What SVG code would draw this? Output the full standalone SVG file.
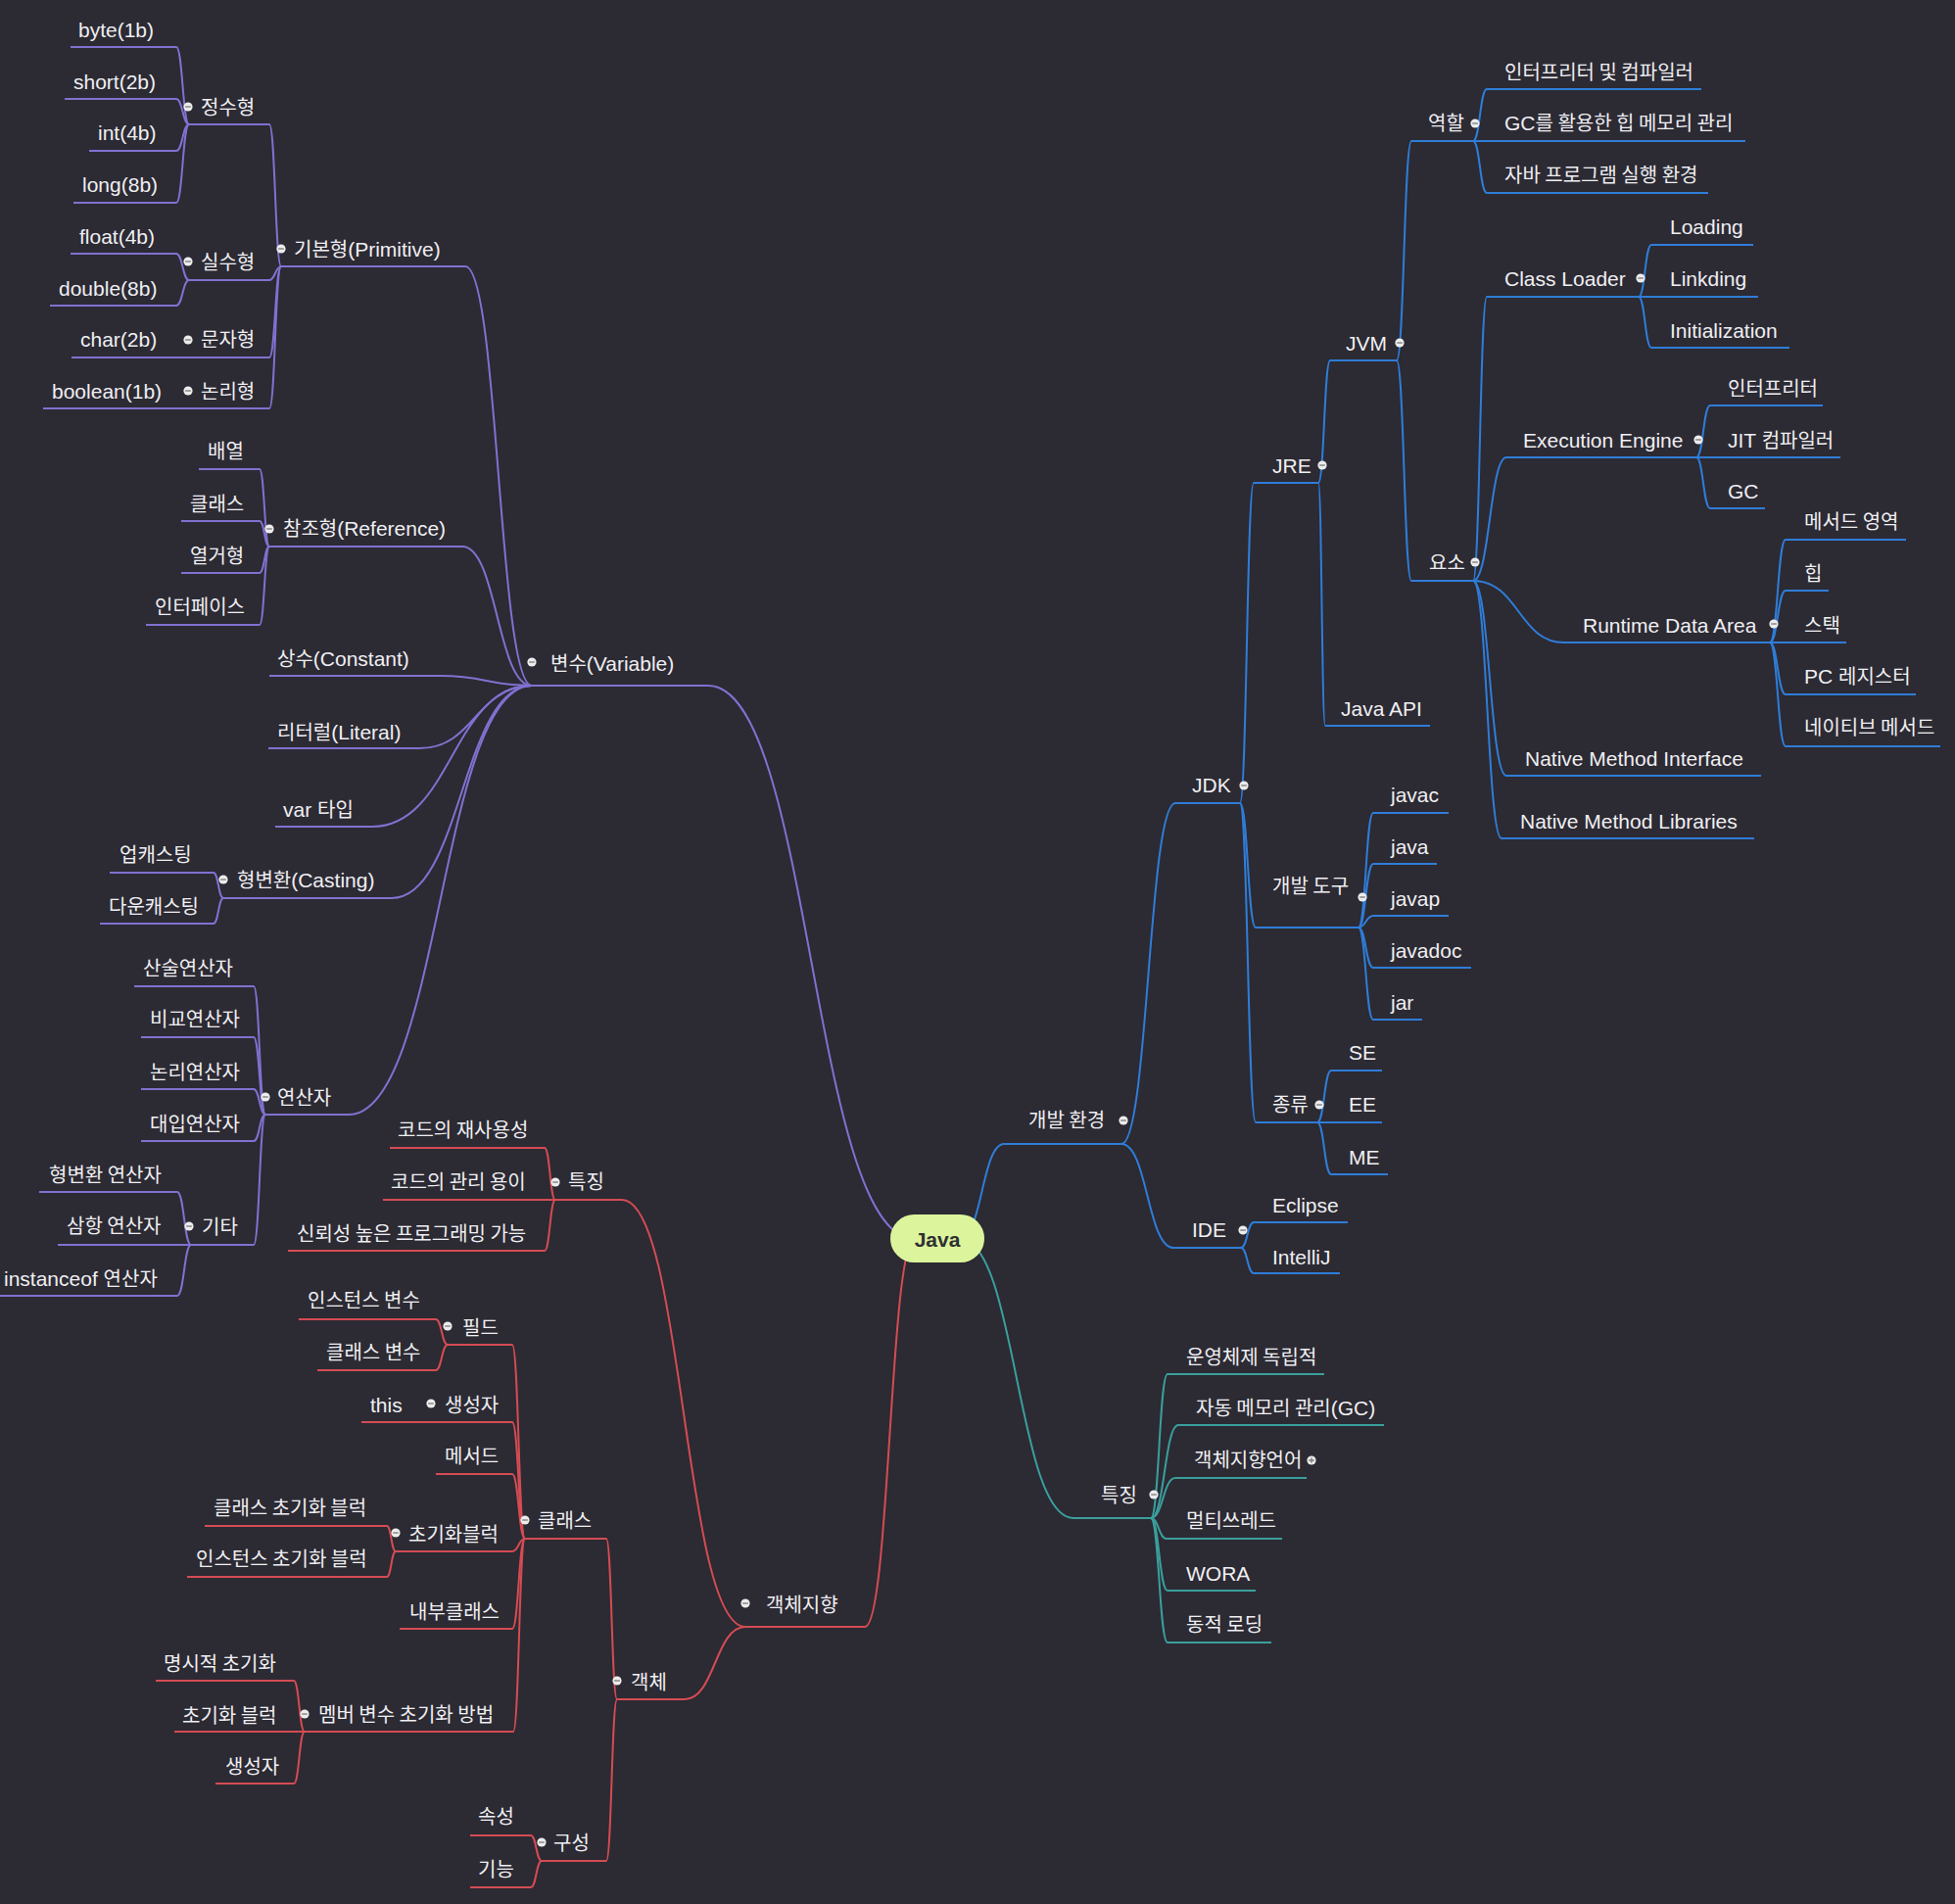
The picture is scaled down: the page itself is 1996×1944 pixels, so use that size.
<svg xmlns="http://www.w3.org/2000/svg" width="1996" height="1944" viewBox="0 0 1996 1944">
<style>
text{font-family:"Liberation Sans","Noto Sans CJK KR",sans-serif;font-size:21px;fill:#efeff2}
.k{font-family:"Noto Sans CJK KR",sans-serif;font-size:20px}
.c path{fill:none;stroke-width:2}
.pu path{stroke:#8171d0}
.rd path{stroke:#d44c53}
.bl path{stroke:#2f7dd8}
.tl path{stroke:#3a9f9c}
</style>
<defs>
<g id="dm"><circle r="4.6" fill="#ececec"/><path d="M-2.8 0H2.8" stroke="#7a7a7a" stroke-width="1.3"/></g>
<g id="dp"><circle r="4.6" fill="#ececec"/><path d="M-2.8 0H2.8M0 -2.8V2.8" stroke="#7a7a7a" stroke-width="1.3"/></g>
</defs>
<rect width="1996" height="1944" fill="#2c2a33"/>
<g id="connectors" class="c">
<g class="pu">
<path d="M543 700H723C828.5 700 828.5 1265 934 1265"/>
<path d="M287 272H475C509 272 509 700 543 700"/>
<path d="M193 127H275C281 127 281 272 287 272"/>
<path d="M72 48H180C186.5 48 186.5 127 193 127"/>
<path d="M66 101H180C186.5 101 186.5 127 193 127"/>
<path d="M91 154H180C186.5 154 186.5 127 193 127"/>
<path d="M75 207H180C186.5 207 186.5 127 193 127"/>
<path d="M193 286H275C281 286 281 272 287 272"/>
<path d="M72 259H180C186.5 259 186.5 286 193 286"/>
<path d="M51 312H180C186.5 312 186.5 286 193 286"/>
<path d="M193 365H275C281 365 281 272 287 272"/>
<path d="M73 365H193"/>
<path d="M193 417H275C281 417 281 272 287 272"/>
<path d="M44 417H193"/>
<path d="M275 558H472C507.5 558 507.5 700 543 700"/>
<path d="M203 479H265C270 479 270 558 275 558"/>
<path d="M185 532H265C270 532 270 558 275 558"/>
<path d="M185 585H265C270 585 270 558 275 558"/>
<path d="M149 638H265C270 638 270 558 275 558"/>
<path d="M275 690H450C496.5 690 496.5 700 543 700"/>
<path d="M274 764H428C485.5 764 485.5 700 543 700"/>
<path d="M281 844H380C461.5 844 461.5 700 543 700"/>
<path d="M228 917H400C471.5 917 471.5 700 543 700"/>
<path d="M112 891H218C223 891 223 917 228 917"/>
<path d="M102 943H218C223 943 223 917 228 917"/>
<path d="M271 1138H356C449.5 1138 449.5 700 543 700"/>
<path d="M137 1007H259C265 1007 265 1138 271 1138"/>
<path d="M144 1059H259C265 1059 265 1138 271 1138"/>
<path d="M144 1112H259C265 1112 265 1138 271 1138"/>
<path d="M144 1165H259C265 1165 265 1138 271 1138"/>
<path d="M195 1271H259C265 1271 265 1138 271 1138"/>
<path d="M40 1217H181C188 1217 188 1271 195 1271"/>
<path d="M59 1271H195"/>
<path d="M0 1323H181C188 1323 188 1271 195 1271"/>
</g>
<g class="rd">
<path d="M761 1661H883C908.5 1661 908.5 1265 934 1265"/>
<path d="M567 1225H635C698 1225 698 1661 761 1661"/>
<path d="M398 1172H556C561.5 1172 561.5 1225 567 1225"/>
<path d="M391 1225H567"/>
<path d="M294 1277H556C561.5 1277 561.5 1225 567 1225"/>
<path d="M630 1735H699C730 1735 730 1661 761 1661"/>
<path d="M536 1571H619C624.5 1571 624.5 1735 630 1735"/>
<path d="M457 1373H523C529.5 1373 529.5 1571 536 1571"/>
<path d="M305 1347H445C451 1347 451 1373 457 1373"/>
<path d="M324 1399H445C451 1399 451 1373 457 1373"/>
<path d="M440 1452H523C529.5 1452 529.5 1571 536 1571"/>
<path d="M369 1452H440"/>
<path d="M445 1505H523C529.5 1505 529.5 1571 536 1571"/>
<path d="M404 1584H523C529.5 1584 529.5 1571 536 1571"/>
<path d="M209 1558H395C399.5 1558 399.5 1584 404 1584"/>
<path d="M191 1610H395C399.5 1610 399.5 1584 404 1584"/>
<path d="M408 1663H523C529.5 1663 529.5 1571 536 1571"/>
<path d="M311 1768H524C530 1768 530 1571 536 1571"/>
<path d="M159 1716H300C305.5 1716 305.5 1768 311 1768"/>
<path d="M178 1768H311"/>
<path d="M220 1821H300C305.5 1821 305.5 1768 311 1768"/>
<path d="M553 1900H619C624.5 1900 624.5 1735 630 1735"/>
<path d="M480 1874H542C547.5 1874 547.5 1900 553 1900"/>
<path d="M480 1927H542C547.5 1927 547.5 1900 553 1900"/>
</g>
<g class="bl">
<path d="M1145 1168H1025C1002.5 1168 1002.5 1265 980 1265"/>
<path d="M1266 820H1200C1172.5 820 1172.5 1168 1145 1168"/>
<path d="M1346 493H1280C1273 493 1273 820 1266 820"/>
<path d="M1426 368H1358C1352 368 1352 493 1346 493"/>
<path d="M1504 144H1441C1433.5 144 1433.5 368 1426 368"/>
<path d="M1737 91H1518C1511 91 1511 144 1504 144"/>
<path d="M1782 144H1504"/>
<path d="M1744 197H1518C1511 197 1511 144 1504 144"/>
<path d="M1504 593H1441C1433.5 593 1433.5 368 1426 368"/>
<path d="M1673 303H1518C1511 303 1511 593 1504 593"/>
<path d="M1790 250H1686C1679.5 250 1679.5 303 1673 303"/>
<path d="M1795 303H1673"/>
<path d="M1827 355H1686C1679.5 355 1679.5 303 1673 303"/>
<path d="M1732 467H1538C1521 467 1521 593 1504 593"/>
<path d="M1861 414H1746C1739 414 1739 467 1732 467"/>
<path d="M1879 467H1732"/>
<path d="M1802 519H1746C1739 519 1739 467 1732 467"/>
<path d="M1807 656H1597C1550.5 656 1550.5 593 1504 593"/>
<path d="M1946 551H1823C1815 551 1815 656 1807 656"/>
<path d="M1867 603H1823C1815 603 1815 656 1807 656"/>
<path d="M1885 656H1807"/>
<path d="M1956 709H1823C1815 709 1815 656 1807 656"/>
<path d="M1981 762H1823C1815 762 1815 656 1807 656"/>
<path d="M1798 792H1538C1521 792 1521 593 1504 593"/>
<path d="M1791 856H1533C1518.5 856 1518.5 593 1504 593"/>
<path d="M1460 741H1353C1349.5 741 1349.5 493 1346 493"/>
<path d="M1387 947H1282C1274 947 1274 820 1266 820"/>
<path d="M1479 830H1402C1394.5 830 1394.5 947 1387 947"/>
<path d="M1467 882H1402C1394.5 882 1394.5 947 1387 947"/>
<path d="M1479 935H1402C1394.5 935 1394.5 947 1387 947"/>
<path d="M1502 988H1402C1394.5 988 1394.5 947 1387 947"/>
<path d="M1452 1041H1402C1394.5 1041 1394.5 947 1387 947"/>
<path d="M1345 1146H1282C1274 1146 1274 820 1266 820"/>
<path d="M1411 1093H1359C1352 1093 1352 1146 1345 1146"/>
<path d="M1411 1146H1345"/>
<path d="M1417 1199H1359C1352 1199 1352 1146 1345 1146"/>
<path d="M1267 1274H1198C1171.5 1274 1171.5 1168 1145 1168"/>
<path d="M1376 1248H1280C1273.5 1248 1273.5 1274 1267 1274"/>
<path d="M1368 1300H1280C1273.5 1300 1273.5 1274 1267 1274"/>
</g>
<g class="tl">
<path d="M1175 1550H1096C1038 1550 1038 1265 980 1265"/>
<path d="M1352 1403H1192C1183.5 1403 1183.5 1550 1175 1550"/>
<path d="M1413 1455H1203C1189 1455 1189 1550 1175 1550"/>
<path d="M1334 1509H1200C1187.5 1509 1187.5 1550 1175 1550"/>
<path d="M1309 1571H1191C1183 1571 1183 1550 1175 1550"/>
<path d="M1282 1624H1192C1183.5 1624 1183.5 1550 1175 1550"/>
<path d="M1298 1677H1192C1183.5 1677 1183.5 1550 1175 1550"/>
</g>
</g>
<g id="n-java"><rect x="909" y="1240" width="96" height="49" rx="24.5" fill="#dcf59c"/><text x="957" y="1273" text-anchor="middle" style="font-weight:bold;fill:#2f2f33">Java</text></g>
<g id="n-var"><use href="#dm" x="543" y="676"/><text x="562" y="685"><tspan class="k">변수</tspan>(Variable)</text></g>
<g id="n-prim"><use href="#dm" x="287" y="254"/><text x="300" y="262"><tspan class="k">기본형</tspan>(Primitive)</text></g>
<g id="n-int-type"><use href="#dm" x="192" y="109"/><text class="k" x="205" y="117">정수형</text></g>
<g id="n-byte"><text x="80" y="38">byte(1b)</text></g>
<g id="n-short"><text x="75" y="91">short(2b)</text></g>
<g id="n-int"><text x="100" y="143">int(4b)</text></g>
<g id="n-long"><text x="84" y="196">long(8b)</text></g>
<g id="n-real-type"><use href="#dm" x="192" y="267"/><text class="k" x="205" y="275">실수형</text></g>
<g id="n-float"><text x="81" y="249">float(4b)</text></g>
<g id="n-double"><text x="60" y="302">double(8b)</text></g>
<g id="n-char-type"><use href="#dm" x="192" y="347"/><text class="k" x="205" y="354">문자형</text></g>
<g id="n-char"><text x="82" y="354">char(2b)</text></g>
<g id="n-bool-type"><use href="#dm" x="192" y="399"/><text class="k" x="205" y="407">논리형</text></g>
<g id="n-boolean"><text x="53" y="407">boolean(1b)</text></g>
<g id="n-ref"><use href="#dm" x="275" y="540"/><text x="289" y="547"><tspan class="k">참조형</tspan>(Reference)</text></g>
<g id="n-array"><text class="k" x="212" y="468">배열</text></g>
<g id="n-ref-class"><text class="k" x="194" y="522">클래스</text></g>
<g id="n-enum"><text class="k" x="194" y="575">열거형</text></g>
<g id="n-interface"><text class="k" x="158" y="627">인터페이스</text></g>
<g id="n-const"><text x="283" y="680"><tspan class="k">상수</tspan>(Constant)</text></g>
<g id="n-literal"><text x="283" y="755"><tspan class="k">리터럴</tspan>(Literal)</text></g>
<g id="n-vartype"><text x="289" y="834">var <tspan class="k">타입</tspan></text></g>
<g id="n-cast"><use href="#dm" x="228" y="898"/><text x="242" y="906"><tspan class="k">형변환</tspan>(Casting)</text></g>
<g id="n-up"><text class="k" x="122" y="880">업캐스팅</text></g>
<g id="n-down"><text class="k" x="111" y="933">다운캐스팅</text></g>
<g id="n-op"><use href="#dm" x="271" y="1120"/><text class="k" x="283" y="1128">연산자</text></g>
<g id="n-op1"><text class="k" x="146" y="996">산술연산자</text></g>
<g id="n-op2"><text class="k" x="153" y="1048">비교연산자</text></g>
<g id="n-op3"><text class="k" x="153" y="1102">논리연산자</text></g>
<g id="n-op4"><text class="k" x="153" y="1155">대입연산자</text></g>
<g id="n-etc"><use href="#dm" x="193" y="1252"/><text class="k" x="206" y="1260">기타</text></g>
<g id="n-castop"><text class="k" x="50" y="1207">형변환 연산자</text></g>
<g id="n-ternary"><text class="k" x="68" y="1259">삼항 연산자</text></g>
<g id="n-instanceof"><text x="4" y="1313">instanceof <tspan class="k">연산자</tspan></text></g>
<g id="n-oop"><use href="#dm" x="761" y="1637"/><text class="k" x="782" y="1646">객체지향</text></g>
<g id="n-oop-feat"><use href="#dm" x="567" y="1207"/><text class="k" x="580" y="1214">특징</text></g>
<g id="n-reuse"><text class="k" x="406" y="1161">코드의 재사용성</text></g>
<g id="n-manage"><text class="k" x="399" y="1214">코드의 관리 용이</text></g>
<g id="n-reliable"><text class="k" x="303" y="1267">신뢰성 높은 프로그래밍 가능</text></g>
<g id="n-object"><use href="#dm" x="630" y="1716"/><text class="k" x="644" y="1725">객체</text></g>
<g id="n-class"><use href="#dm" x="536" y="1552"/><text class="k" x="549" y="1560">클래스</text></g>
<g id="n-field"><use href="#dm" x="457" y="1354"/><text class="k" x="472" y="1363">필드</text></g>
<g id="n-instvar"><text class="k" x="314" y="1335">인스턴스 변수</text></g>
<g id="n-classvar"><text class="k" x="333" y="1388">클래스 변수</text></g>
<g id="n-ctor"><use href="#dm" x="440" y="1433"/><text class="k" x="454" y="1442">생성자</text></g>
<g id="n-this"><text x="378" y="1442">this</text></g>
<g id="n-method"><text class="k" x="454" y="1494">메서드</text></g>
<g id="n-initblock"><use href="#dm" x="404" y="1565"/><text class="k" x="417" y="1574">초기화블럭</text></g>
<g id="n-cinit"><text class="k" x="218" y="1547">클래스 초기화 블럭</text></g>
<g id="n-iinit"><text class="k" x="200" y="1599">인스턴스 초기화 블럭</text></g>
<g id="n-inner"><text class="k" x="418" y="1653">내부클래스</text></g>
<g id="n-meminit"><use href="#dm" x="311" y="1750"/><text class="k" x="325" y="1758">멤버 변수 초기화 방법</text></g>
<g id="n-explicit"><text class="k" x="167" y="1706">명시적 초기화</text></g>
<g id="n-initblk2"><text class="k" x="186" y="1759">초기화 블럭</text></g>
<g id="n-ctor2"><text class="k" x="230" y="1811">생성자</text></g>
<g id="n-compose"><use href="#dm" x="553" y="1881"/><text class="k" x="565" y="1889">구성</text></g>
<g id="n-attr"><text class="k" x="488" y="1862">속성</text></g>
<g id="n-func"><text class="k" x="488" y="1916">기능</text></g>
<g id="n-devenv"><use href="#dm" x="1147" y="1144"/><text class="k" x="1050" y="1151">개발 환경</text></g>
<g id="n-jdk"><use href="#dm" x="1270" y="802"/><text x="1217" y="809">JDK</text></g>
<g id="n-jre"><use href="#dm" x="1350" y="475"/><text x="1299" y="483">JRE</text></g>
<g id="n-jvm"><use href="#dm" x="1429" y="350"/><text x="1374" y="358">JVM</text></g>
<g id="n-role"><use href="#dm" x="1506" y="126"/><text class="k" x="1458" y="133">역할</text></g>
<g id="n-interp-comp"><text class="k" x="1536" y="81">인터프리터 및 컴파일러</text></g>
<g id="n-gcheap"><text x="1536" y="133">GC<tspan class="k">를 활용한 힙 메모리 관리</tspan></text></g>
<g id="n-runenv"><text class="k" x="1536" y="186">자바 프로그램 실행 환경</text></g>
<g id="n-elem"><use href="#dm" x="1506" y="574"/><text class="k" x="1459" y="582">요소</text></g>
<g id="n-classloader"><use href="#dm" x="1675" y="284"/><text x="1536" y="292">Class Loader</text></g>
<g id="n-loading"><text x="1705" y="239">Loading</text></g>
<g id="n-linking"><text x="1705" y="292">Linkding</text></g>
<g id="n-init"><text x="1705" y="345">Initialization</text></g>
<g id="n-exec"><use href="#dm" x="1734" y="449"/><text x="1555" y="457">Execution Engine</text></g>
<g id="n-interp"><text class="k" x="1764" y="404">인터프리터</text></g>
<g id="n-jit"><text x="1764" y="457">JIT <tspan class="k">컴파일러</tspan></text></g>
<g id="n-gc"><text x="1764" y="509">GC</text></g>
<g id="n-rda"><use href="#dm" x="1811" y="637"/><text x="1616" y="646">Runtime Data Area</text></g>
<g id="n-methodarea"><text class="k" x="1842" y="540">메서드 영역</text></g>
<g id="n-heap"><text class="k" x="1842" y="593">힙</text></g>
<g id="n-stack"><text class="k" x="1842" y="646">스택</text></g>
<g id="n-pc"><text x="1842" y="698">PC <tspan class="k">레지스터</tspan></text></g>
<g id="n-native"><text class="k" x="1842" y="750">네이티브 메서드</text></g>
<g id="n-nmi"><text x="1557" y="782">Native Method Interface</text></g>
<g id="n-nml"><text x="1552" y="846">Native Method Libraries</text></g>
<g id="n-javaapi"><text x="1369" y="731">Java API</text></g>
<g id="n-tools"><use href="#dm" x="1391" y="916"/><text class="k" x="1299" y="912">개발 도구</text></g>
<g id="n-javac"><text x="1420" y="819">javac</text></g>
<g id="n-javacmd"><text x="1420" y="872">java</text></g>
<g id="n-javap"><text x="1420" y="925">javap</text></g>
<g id="n-javadoc"><text x="1420" y="978">javadoc</text></g>
<g id="n-jar"><text x="1420" y="1031">jar</text></g>
<g id="n-kind"><use href="#dm" x="1347" y="1128"/><text class="k" x="1299" y="1135">종류</text></g>
<g id="n-se"><text x="1377" y="1082">SE</text></g>
<g id="n-ee"><text x="1377" y="1135">EE</text></g>
<g id="n-me"><text x="1377" y="1189">ME</text></g>
<g id="n-ide"><use href="#dm" x="1269" y="1256"/><text x="1217" y="1263">IDE</text></g>
<g id="n-eclipse"><text x="1299" y="1238">Eclipse</text></g>
<g id="n-intellij"><text x="1299" y="1291">IntelliJ</text></g>
<g id="n-feat"><use href="#dm" x="1178" y="1526"/><text class="k" x="1124" y="1534">특징</text></g>
<g id="n-osind"><text class="k" x="1211" y="1393">운영체제 독립적</text></g>
<g id="n-autogc"><text x="1221" y="1445"><tspan class="k">자동 메모리 관리</tspan>(GC)</text></g>
<g id="n-ool"><use href="#dp" x="1339" y="1491"/><text class="k" x="1219" y="1498">객체지향언어</text></g>
<g id="n-thread"><text class="k" x="1211" y="1560">멀티쓰레드</text></g>
<g id="n-wora"><text x="1211" y="1614">WORA</text></g>
<g id="n-dynload"><text class="k" x="1211" y="1666">동적 로딩</text></g>
</svg>
